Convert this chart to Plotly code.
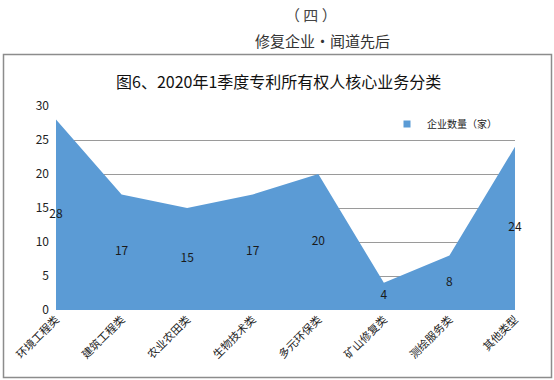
import plotly.graph_objects as go

categories = ["环境工程类", "建筑工程类", "农业农田类", "生物技术类", "多元环保类", "矿山修复类", "测绘服务类", "其他类型"]
values = [28, 17, 15, 17, 20, 4, 8, 24]
series_name = "企业数量（家）"
y_ticks = [0, 5, 10, 15, 20, 25, 30]

title_text = "图6、2020年1季度专利所有权人核心业务分类"
header_top = "（ 四 ）"
header_sub = "修复企业·闻道先后"

FONT = "Noto Sans CJK SC, Microsoft YaHei, sans-serif"
W, H = 554, 380
L, R, T, B = 56, 39, 106, 70
pw, ph = W - L - R, H - T - B

def px_x(x):
    return (x - L) / pw

def px_y(y):
    return (H - B - y) / ph

xs = list(range(len(categories)))

fig = go.Figure()
fig.add_trace(go.Scatter(
    x=xs, y=values, mode="lines", fill="tozeroy",
    line=dict(width=0, color="#5B9BD5"), fillcolor="#5B9BD5",
    name=series_name, showlegend=False, hoverinfo="skip",
))
# legend swatch (square marker like the reference)
fig.add_trace(go.Scatter(
    x=[None], y=[None], mode="markers",
    marker=dict(symbol="square", size=7, color="#5B9BD5"),
    name=series_name, showlegend=True, hoverinfo="skip",
))
fig.add_trace(go.Scatter(
    x=xs, y=[v / 2 for v in values], mode="text",
    text=[str(v) for v in values], textposition="middle center",
    textfont=dict(size=12, color="#1a1a1a", family=FONT),
    showlegend=False, cliponaxis=False, hoverinfo="skip",
))

fig.update_layout(
    template="none",
    width=W, height=H,
    margin=dict(l=L, r=R, t=T, b=B, autoexpand=False),
    paper_bgcolor="white", plot_bgcolor="white",
    font=dict(family=FONT, color="#222"),
    showlegend=True,
    legend=dict(x=px_x(387), y=px_y(124), xanchor="left", yanchor="middle",
                font=dict(size=10, color="#222"), bgcolor="rgba(0,0,0,0)",
                itemwidth=30, borderwidth=0),
    xaxis=dict(range=[0, len(categories) - 1], tickvals=xs, ticktext=categories,
               tickangle=-45, showgrid=False, zeroline=False, showline=False,
               ticks="", automargin=False,
               tickfont=dict(size=11, color="#222"), fixedrange=True),
    yaxis=dict(range=[0, 30], tickvals=y_ticks, showgrid=True, gridcolor="#9a9a9a",
               gridwidth=1, zeroline=False, showline=False, ticks="",
               automargin=False, ticklabelstandoff=6,
               tickfont=dict(size=12, color="#222"), fixedrange=True),
    shapes=[dict(type="rect", xref="paper", yref="paper",
                 x0=px_x(3.5), x1=px_x(551.5), y0=px_y(377.5), y1=px_y(54.5),
                 line=dict(color="#8c8c8c", width=1.5), fillcolor="rgba(0,0,0,0)",
                 layer="below")],
    annotations=[
        dict(text=header_top, x=px_x(311), y=px_y(14), xref="paper", yref="paper",
             xanchor="center", yanchor="middle",
             showarrow=False, font=dict(size=15, color="#444", family=FONT)),
        dict(text=header_sub, x=px_x(322), y=px_y(40), xref="paper", yref="paper",
             xanchor="center", yanchor="middle",
             showarrow=False, font=dict(size=15, color="#333", family=FONT)),
        dict(text=title_text, x=px_x(278), y=px_y(81), xref="paper", yref="paper",
             xanchor="center", yanchor="middle",
             showarrow=False, font=dict(size=16, color="#111", family=FONT)),
    ],
)

fig.write_html("out.html", config={"displayModeBar": False},
               post_script="document.body.style.margin='0';document.body.style.overflow='hidden';")
